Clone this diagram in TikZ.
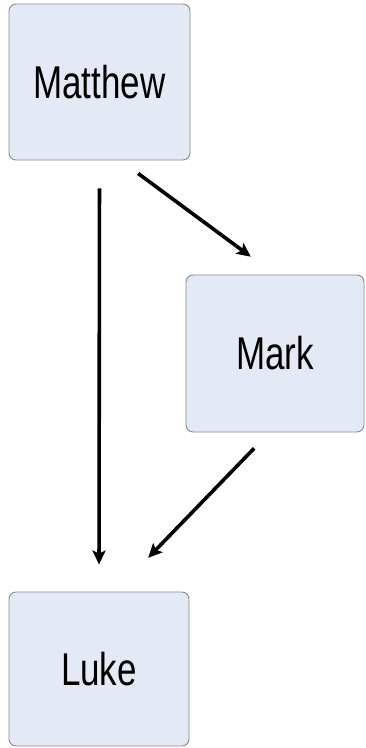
\documentclass[tikz,border=0pt]{standalone}
\usepackage{fontspec}
\usepackage{xcolor}
\usepackage{tikz}
\usetikzlibrary{arrows.meta}
\usetikzlibrary{calc}
\newfontfamily\gospelfont[FakeStretch=0.76]{Liberation Sans}
\definecolor{boxfill}{HTML}{E4EAF5}
\definecolor{boxline}{HTML}{8A8A8A}

\begin{document}
\begin{tikzpicture}[x=1pt, y=-1pt,
  gospel/.style={draw=boxline, fill=boxfill, line width=0.9pt, rounded corners=7pt,
                 font=\gospelfont\fontsize{46}{50}\selectfont, inner sep=0pt},
  link/.style={line width=3.6pt, -{Stealth[length=14pt, width=13pt, inset=3pt]}}]

 \useasboundingbox (0,0) rectangle (365,748);

 %boxes
 \node[gospel, minimum width=181pt, minimum height=156pt] (Matthew) at (99.5, 82) {Matthew};
 \node[gospel, minimum width=178pt, minimum height=157pt] (Mark) at (275, 353.5) {Mark};
 \node[gospel, minimum width=180pt, minimum height=154pt] (Luke) at (99, 669) {Luke};

 %arrows
 \draw[link, shorten <=28pt, shorten >=27pt] (Matthew.south) -- (Luke.north);
 \draw[link, shorten <=22pt, shorten >=30pt] (Matthew.-75) -- (Mark.north);
 \draw[link, shorten <=22pt, shorten >=47pt] (Mark.-94) -- (Luke.78);

\end{tikzpicture}
\end{document}
